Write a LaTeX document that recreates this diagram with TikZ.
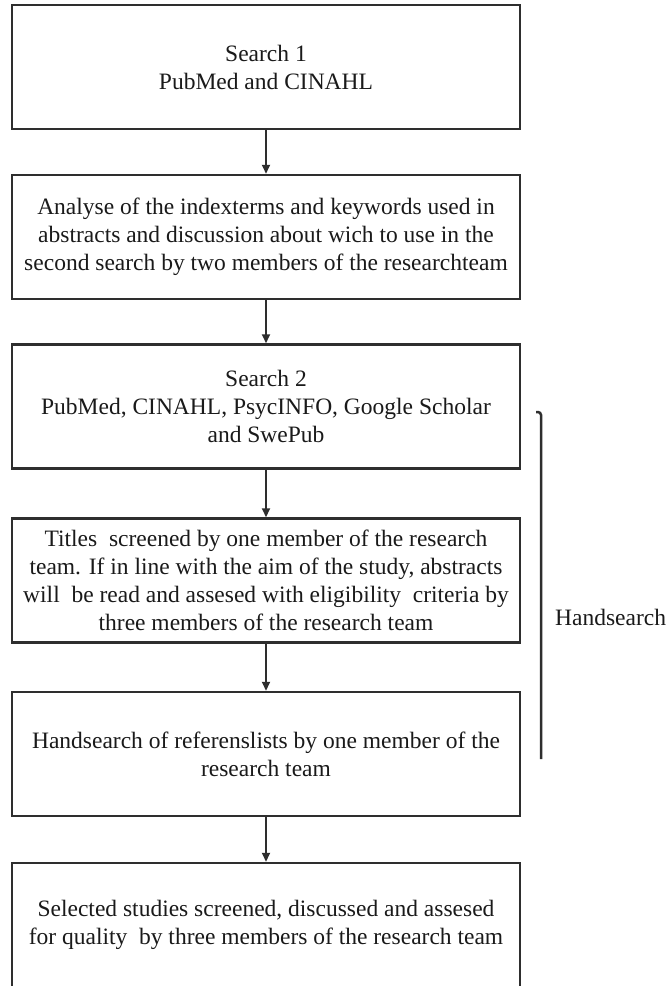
\documentclass[tikz,border=0pt]{standalone}
\usepackage{fontspec}
\setmainfont{Liberation Serif}
\usetikzlibrary{arrows.meta}
\definecolor{linecol}{HTML}{2E2E2E}
\definecolor{textcol}{HTML}{1A1A1A}
\begin{document}
\begin{tikzpicture}[x=1pt,y=-1pt,
  box/.style={draw=linecol, line width=2.5pt, minimum width=508pt, minimum height=124pt,
    inner sep=0pt, align=center, text=textcol, font=\fontsize{23.5}{28}\selectfont},
  conn/.style={draw=linecol, line width=2pt, -{Triangle[width=8pt,length=9pt]}},
  brace/.style={draw=linecol, line width=2.5pt, rounded corners=3pt},
  lbl/.style={anchor=west, inner sep=0pt, text=textcol, font=\fontsize{23.5}{28}\selectfont}]
\useasboundingbox (0,0) rectangle (666,986);
\clip (0,0) rectangle (666,986);
\fill[white] (0,0) rectangle (666,986);

\node[box] (b1) at (266,67) {Search 1\\PubMed and CINAHL};
\node[box] (b2) at (266,237) {Analyse of the indexterms and keywords used in\\abstracts and discussion about wich to use in the\\second search by two members of the researchteam};
\node[box] (b3) at (266,406.5) {Search 2\\PubMed, CINAHL, PsycINFO, Google Scholar\\and SwePub};
\node[box] (b4) at (266,580.5) {Titles\ \ screened by one member of the research\\team. If in line with the aim of the study, abstracts\\will\ \ be read and assesed with eligibility\ \ criteria by\\three members of the research team};
\node[box] (b5) at (266,754) {Handsearch of referenslists by one member of the\\research team};
\node[box] (b6) at (266,925) {Selected studies screened, discussed and assesed\\for quality\ \ by three members of the research team};

\draw[conn] (b1.south) -- (b2.north);
\draw[conn] (b2.south) -- (b3.north);
\draw[conn] (b3.south) -- (b4.north);
\draw[conn] (b4.south) -- (b5.north);
\draw[conn] (b5.south) -- (b6.north);

\coordinate (bt) at (536,412);
\coordinate (bc) at (541,412);
\coordinate (bb) at (541,759);
\draw[brace] (bt) -- (bc) -- (bb);
\node[lbl] (hs) at (555,617) {Handsearch};
\end{tikzpicture}
\end{document}
